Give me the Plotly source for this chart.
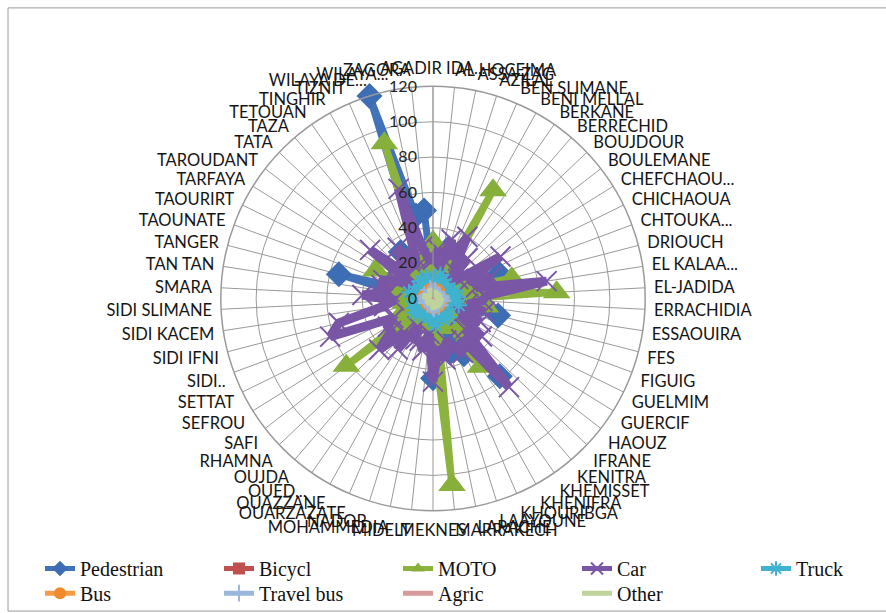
import plotly.graph_objects as go

categories = [
    "AGADIR IDA...", "AL HOCEIMA", "ASSA ZAG", "AZILAL", "BEN SLIMANE", "BENI MELLAL",
    "BERKANE", "BERRECHID", "BOUJDOUR", "BOULEMANE", "CHEFCHAOU...", "CHICHAOUA",
    "CHTOUKA...", "DRIOUCH", "EL KALAA...", "EL-JADIDA", "ERRACHIDIA", "ESSAOUIRA",
    "FES", "FIGUIG", "GUELMIM", "GUERCIF", "HAOUZ", "IFRANE", "KENITRA", "KHEMISSET",
    "KHENIFRA", "KHOURIBGA", "LAAYOUNE", "LARACHE", "MARRAKECH", "MEKNES", "MIDELT",
    "MOHAMMEDIA", "NADOR", "OUARZAZATE", "OUAZZANE", "OUED...", "OUJDA", "RHAMNA",
    "SAFI", "SEFROU", "SETTAT", "SIDI..", "SIDI IFNI", "SIDI KACEM", "SIDI SLIMANE",
    "SMARA", "TAN TAN", "TANGER", "TAOUNATE", "TAOURIRT", "TARFAYA", "TAROUDANT",
    "TATA", "TAZA", "TETOUAN", "TINGHIR", "TIZNIT", "WILAYA DE...", "WILAYA...", "ZAGORA",
]

pedestrian = [8, 12, 6, 30, 10, 18, 8, 12, 4, 6, 14, 10, 40, 12, 15, 20, 10, 22, 38, 6,
              10, 8, 14, 20, 58, 16, 36, 14, 32, 12, 18, 45, 10, 14, 12, 8, 6, 4, 16, 10,
              12, 8, 14, 10, 6, 12, 8, 10, 20, 55, 14, 10, 4, 12, 6, 16, 32, 8, 10, 120,
              48, 50]
bicycl = [3, 2, 1, 4, 2, 5, 2, 3, 0, 1, 3, 2, 6, 2, 4, 5, 2, 4, 8, 1,
          2, 1, 3, 2, 8, 3, 4, 2, 3, 2, 6, 7, 2, 3, 4, 2, 1, 0, 5, 2,
          4, 2, 3, 3, 1, 4, 2, 3, 4, 10, 25, 6, 1, 5, 2, 22, 8, 2, 3, 6,
          4, 3]
moto = [32, 14, 6, 20, 12, 70, 10, 16, 4, 6, 12, 14, 18, 46, 22, 70, 12, 30, 20, 6,
        10, 8, 16, 12, 22, 47, 14, 18, 16, 12, 106, 20, 10, 12, 16, 10, 8, 4, 28, 18,
        62, 10, 20, 14, 8, 16, 12, 10, 14, 20, 12, 36, 4, 18, 8, 12, 16, 10, 14, 92,
        22, 12]
car = [22, 28, 18, 35, 25, 40, 20, 30, 12, 18, 45, 22, 35, 25, 65, 30, 28, 20, 30, 12,
       30, 18, 35, 25, 66, 28, 35, 30, 25, 35, 28, 47, 20, 30, 25, 25, 18, 35, 25, 42,
       30, 30, 25, 62, 55, 28, 22, 40, 25, 30, 30, 22, 12, 45, 20, 28, 35, 20, 25, 65,
       30, 22]
truck = [10, 12, 8, 14, 9, 12, 8, 11, 5, 7, 10, 9, 13, 8, 12, 14, 9, 11, 15, 6,
         8, 7, 10, 9, 14, 11, 10, 12, 9, 10, 15, 13, 8, 11, 10, 7, 6, 5, 12, 9,
         13, 8, 12, 10, 6, 11, 9, 8, 7, 14, 10, 9, 4, 11, 6, 10, 12, 7, 9, 13,
         10, 8]
bus = [3, 2, 1, 3, 2, 4, 1, 2, 0, 1, 2, 2, 3, 1, 2, 3, 1, 2, 4, 1,
       1, 1, 2, 2, 4, 2, 2, 3, 2, 2, 4, 3, 1, 2, 2, 1, 1, 0, 2, 2,
       3, 1, 2, 2, 1, 2, 1, 2, 1, 4, 2, 2, 0, 2, 1, 2, 3, 1, 2, 4,
       2, 2]
travel_bus = [2, 3, 1, 4, 2, 3, 1, 2, 1, 1, 3, 2, 4, 2, 3, 4, 2, 3, 5, 1,
              2, 1, 3, 2, 5, 3, 2, 3, 2, 2, 5, 4, 1, 2, 3, 2, 1, 1, 3, 2,
              4, 2, 3, 2, 1, 3, 2, 2, 2, 5, 3, 2, 1, 3, 1, 2, 3, 2, 2, 5,
              3, 2]
agric = [1, 0, 0, 2, 1, 2, 0, 1, 0, 0, 1, 1, 2, 0, 1, 2, 1, 1, 2, 0,
         0, 0, 1, 1, 2, 1, 1, 2, 0, 1, 2, 1, 0, 1, 1, 0, 0, 0, 1, 1,
         2, 0, 1, 1, 0, 1, 0, 1, 0, 2, 1, 1, 0, 1, 0, 1, 1, 0, 1, 2,
         1, 1]
other = [4, 3, 2, 5, 3, 4, 2, 4, 1, 2, 3, 3, 5, 2, 4, 5, 3, 4, 6, 2,
         3, 2, 4, 3, 6, 4, 3, 5, 3, 3, 6, 5, 2, 3, 4, 2, 2, 1, 4, 3,
         5, 2, 4, 3, 2, 4, 3, 3, 2, 6, 4, 3, 1, 4, 2, 3, 4, 2, 3, 6,
         4, 3]

radial_ticks = [0, 20, 40, 60, 80, 100, 120]

# name, values, line colour, line width, marker, legend row, legend entry width
series = [
    ("Pedestrian", pedestrian, "#4272B8", 7, dict(symbol="diamond", size=20, color="#3D6DB5"), "legend", 134),
    ("Bicycl", bicycl, "#C0504D", 6, dict(symbol="square", size=13, color="#C0504D"), "legend", 134),
    ("MOTO", moto, "#8DB33F", 7, dict(symbol="triangle-up", size=24, color="#86B03A"), "legend", 134),
    ("Car", car, "#7A56A6", 9, dict(symbol="x-thin-open", size=20, color="#7A56A6",
                                    line=dict(width=2, color="#7A56A6")), "legend", 134),
    ("Truck", truck, "#3FB2CF", 3, dict(symbol="asterisk-open", size=14, color="#3FB2CF",
                                        line=dict(width=2, color="#3FB2CF")), "legend", 50),
    ("Bus", bus, "#F59B45", 3, dict(symbol="circle", size=18, color="#F08A2C"), "legend2", 134),
    ("Travel bus", travel_bus, "#9BB7DC", 2, dict(symbol="cross-thin-open", size=14, color="#9BB7DC",
                                                   line=dict(width=2, color="#9BB7DC")), "legend2", 134),
    ("Agric", agric, "#D79A9A", 3, None, "legend2", 134),
    ("Other", other, "#BFD49A", 6, None, "legend2", 50),
]

fig = go.Figure()
for name, vals, col, w, mk, lg, lw in series:
    fig.add_trace(go.Scatterpolar(
        r=list(vals) + [vals[0]],
        theta=list(categories) + [categories[0]],
        name=name,
        mode="lines+markers" if mk is not None else "lines",
        line=dict(color=col, width=w),
        marker=mk,
        legend=lg,
        legendwidth=lw,
    ))

W, H = 886, 613
cx, cy, R = 433, 302.5, 215
legend_common = dict(
    orientation="h", xanchor="left", yanchor="middle",
    font=dict(family="Liberation Serif", size=20, color="#111"),
    bgcolor="rgba(0,0,0,0)", itemsizing="constant",
)
fig.update_layout(
    width=W, height=H,
    margin=dict(l=0, r=0, t=0, b=0),
    paper_bgcolor="white",
    showlegend=True,
    polar=dict(
        domain=dict(x=[(cx - R) / W, (cx + R) / W], y=[(H - cy - R) / H, (H - cy + R) / H]),
        bgcolor="white",
        angularaxis=dict(
            type="category", categoryorder="array", categoryarray=categories,
            rotation=90, direction="clockwise",
            showgrid=True, gridcolor="#9a9a9a", gridwidth=1,
            linecolor="#9a9a9a", linewidth=1.5,
            ticks="outside", ticklen=5, tickcolor="rgba(0,0,0,0)",
            tickfont=dict(family="Lato", size=16.5, color="#151515"),
        ),
        radialaxis=dict(
            range=[0, 120], tickvals=radial_ticks, ticktext=[str(v) for v in radial_ticks],
            angle=90, side="counterclockwise", tickangle=90,
            showgrid=True, gridcolor="#9a9a9a", gridwidth=1,
            showline=True, linecolor="#9a9a9a", linewidth=1,
            ticks="outside", ticklen=10, tickcolor="rgba(0,0,0,0)",
            tickfont=dict(family="Lato", size=16, color="#222"),
        ),
    ),
    legend=dict(x=40 / W, y=(H - 576) / H, **legend_common),
    legend2=dict(x=40 / W, y=(H - 601) / H, **legend_common),
    shapes=[dict(type="rect", xref="paper", yref="paper",
                 x0=8 / W, x1=1.01, y0=-0.01, y1=1 - 8 / H,
                 line=dict(color="#9a9a9a", width=1))],
)

fig.write_html("out.html")
